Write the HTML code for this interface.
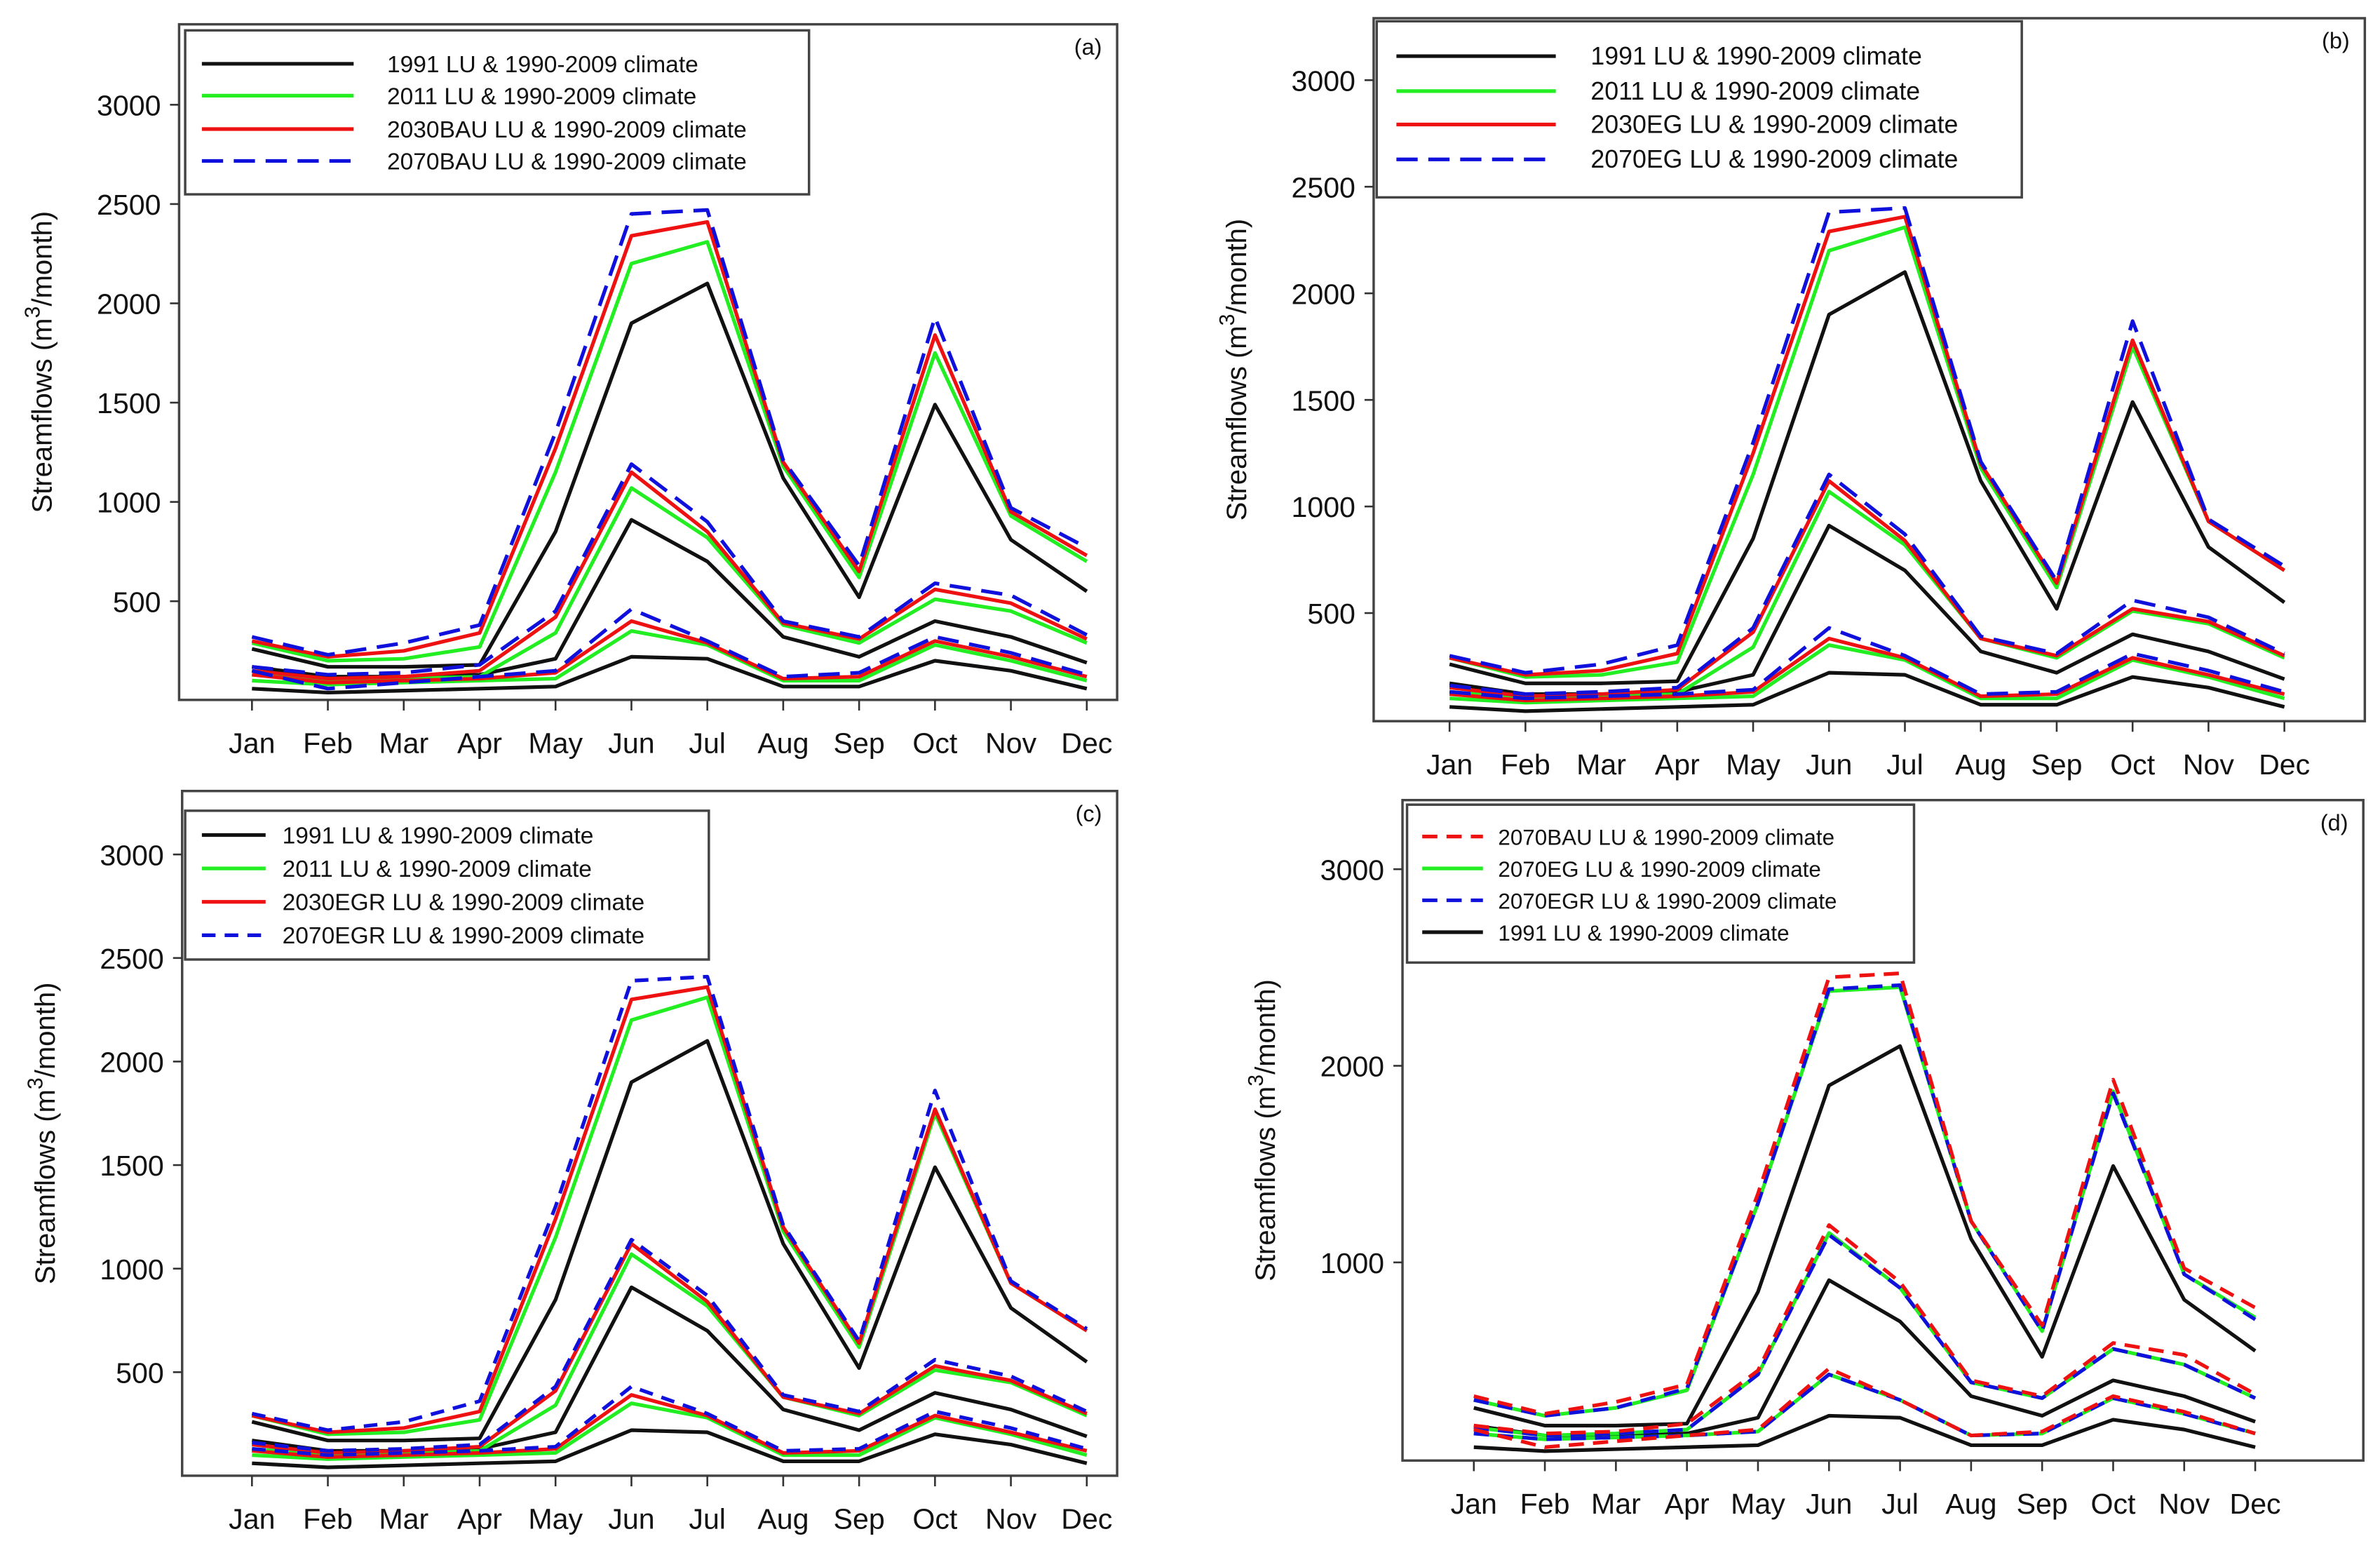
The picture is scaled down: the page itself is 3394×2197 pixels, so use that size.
<!DOCTYPE html>
<html><head><meta charset="utf-8"><style>
html,body{margin:0;padding:0;background:#fff;}
svg{display:block;}
text{font-family:"Liberation Sans",sans-serif;fill:#111;}
</style></head><body>
<svg id="fig" width="3394" height="2197" viewBox="0 0 1568 1015" preserveAspectRatio="none" xmlns="http://www.w3.org/2000/svg"></svg>
<script>
const months=["Jan","Feb","Mar","Apr","May","Jun","Jul","Aug","Sep","Oct","Nov","Dec"];
// Scenario data: three bands (high, mid, low) per scenario
const s1991High=[260,170,170,180,850,1900,2100,1120,520,1490,810,550];
const s1991Mid=[170,120,120,130,210,910,700,320,220,400,320,190];
const s1991Low=[60,40,50,60,70,220,210,70,70,200,150,60];
const s2011High=[290,200,210,270,1150,2200,2310,1180,620,1750,930,700];
const s2011Mid=[130,100,110,120,340,1070,820,380,290,510,450,290];
const s2011Low=[100,80,90,100,110,350,280,100,100,280,200,100];
const sBAU30High=[300,220,250,340,1270,2340,2410,1200,650,1840,950,730];
const sBAU30Mid=[150,110,120,150,420,1150,850,390,310,560,490,310];
const sBAU30Low=[130,90,100,110,140,400,290,110,120,300,220,120];
const sBAU70High=[320,230,290,380,1350,2450,2470,1210,680,1930,970,770];
const sBAU70Mid=[170,130,140,180,450,1190,900,400,320,590,530,330];
const sBAU70Low=[150,60,90,120,150,460,300,120,140,320,240,130];
const sEG30High=[290,210,230,310,1250,2290,2360,1200,640,1780,930,700];
const sEG30Mid=[150,110,120,140,410,1120,840,380,300,520,460,300];
const sEG30Low=[120,90,100,110,130,380,290,110,120,290,210,120];
const sEG70High=[300,220,260,350,1300,2380,2400,1210,650,1870,940,720];
const sEG70Mid=[160,120,130,150,430,1150,870,390,310,560,480,310];
const sEG70Low=[130,100,110,120,140,430,300,120,130,310,230,130];
const sEGR30High=[290,210,230,310,1240,2300,2360,1200,640,1770,930,700];
const sEGR30Mid=[150,110,120,140,410,1120,840,380,300,530,460,300];
const sEGR30Low=[120,90,100,110,130,390,290,110,120,290,210,120];
const sEGR70High=[300,220,260,360,1300,2390,2410,1210,650,1860,940,710];
const sEGR70Mid=[160,120,130,150,430,1140,870,390,310,560,480,310];
const sEGR70Low=[130,100,110,120,140,430,300,120,130,310,230,130];
const yTicksABC=[500,1000,1500,2000,2500,3000];
const yTicksD=[1000,2000,3000];

const svg=document.getElementById('fig');
const NS="http://www.w3.org/2000/svg";
function mk(tag,attrs,parent){const e=document.createElementNS(NS,tag);for(const k in attrs)e.setAttribute(k,attrs[k]);(parent||svg).appendChild(e);return e;}

const BLK="#111",GRN="#22ee22",RED="#ee1111",BLU="#1010dd";
const panels=[
 {id:"a",L:118,T:16,R:736,B:461,y0:461.4,pp:65.4/500,x0:166,dx:50,ticks:yTicksABC,
  leg:{x1:122,y1:20,x2:533,y2:128,lx1:133,lx2:233,tx:255,fs:15.5,ys:[42,63,85,106]},
  series:[["1991 LU & 1990-2009 climate",BLK,"",[s1991High,s1991Mid,s1991Low]],
          ["2011 LU & 1990-2009 climate",GRN,"",[s2011High,s2011Mid,s2011Low]],
          ["2030BAU LU & 1990-2009 climate",RED,"",[sBAU30High,sBAU30Mid,sBAU30Low]],
          ["2070BAU LU & 1990-2009 climate",BLU,"14,7",[sBAU70High,sBAU70Mid,sBAU70Low]]]},
 {id:"b",L:905,T:12,R:1558,B:475,y0:474,pp:70.2/500,x0:955,dx:50,ticks:yTicksABC,
  leg:{x1:907,y1:14,x2:1332,y2:130,lx1:920,lx2:1025,tx:1048,fs:16.5,ys:[37,60,82,105]},
  series:[["1991 LU & 1990-2009 climate",BLK,"",[s1991High,s1991Mid,s1991Low]],
          ["2011 LU & 1990-2009 climate",GRN,"",[s2011High,s2011Mid,s2011Low]],
          ["2030EG LU & 1990-2009 climate",RED,"",[sEG30High,sEG30Mid,sEG30Low]],
          ["2070EG LU & 1990-2009 climate",BLU,"14,7",[sEG70High,sEG70Mid,sEG70Low]]]},
 {id:"c",L:120,T:521,R:736,B:972,y0:972,pp:68.2/500,x0:166,dx:50,ticks:yTicksABC,
  leg:{x1:122,y1:534,x2:467,y2:632,lx1:133,lx2:175,tx:186,fs:15.5,ys:[550,572,594,616]},
  series:[["1991 LU & 1990-2009 climate",BLK,"",[s1991High,s1991Mid,s1991Low]],
          ["2011 LU & 1990-2009 climate",GRN,"",[s2011High,s2011Mid,s2011Low]],
          ["2030EGR LU & 1990-2009 climate",RED,"",[sEGR30High,sEGR30Mid,sEGR30Low]],
          ["2070EGR LU & 1990-2009 climate",BLU,"9,6",[sEGR70High,sEGR70Mid,sEGR70Low]]]},
 {id:"d",L:924,T:527,R:1557,B:962,y0:961,pp:129.5/1000,x0:971,dx:46.8,ticks:yTicksD,
  leg:{x1:927,y1:530,x2:1261,y2:634,lx1:937,lx2:977,tx:987,fs:14.5,ys:[551,572,593,614]},
  series:[["1991 LU & 1990-2009 climate",BLK,"",[s1991High,s1991Mid,s1991Low]],
          ["2070EG LU & 1990-2009 climate",GRN,"",[sEG70High,sEG70Mid,sEG70Low]],
          ["2070EGR LU & 1990-2009 climate",BLU,"10,6",[sEGR70High,sEGR70Mid,sEGR70Low]],
          ["2070BAU LU & 1990-2009 climate",RED,"10,6",[sBAU70High,sBAU70Mid,sBAU70Low]]],
  legOrder:[3,1,2,0]}
];

panels.forEach(p=>{
  const g=mk('g',{});
  
  
  const X=i=>p.x0+i*p.dx, Y=v=>p.y0-v*p.pp;
  p.series.forEach((s,si)=>{
    s[3].forEach((arr,bi)=>{
      const pts=arr.map((v,i)=>X(i).toFixed(1)+","+Y(v).toFixed(1)).join(" ");
      const pl=mk('polyline',{points:pts,fill:"none",stroke:s[1],"stroke-width":2.4,"stroke-linejoin":"round"},g);
      if(s[2])pl.setAttribute('stroke-dasharray',s[2]);
      
      
    });
  });
  const fr=mk('rect',{x:p.L,y:p.T,width:p.R-p.L,height:p.B-p.T,fill:"none",stroke:"#444","stroke-width":1.6},g);
  
  
  p.ticks.forEach(t=>{
    const y=Y(t);
    mk('line',{x1:p.L-6,x2:p.L,y1:y,y2:y,stroke:"#333","stroke-width":1.2},g);
    const tx=mk('text',{x:p.L-12,y:y+7,"text-anchor":"end","font-size":19},g);
    tx.textContent=t;
    
    
  });
  months.forEach((m,i)=>{
    const x=X(i);
    mk('line',{x1:x,x2:x,y1:p.B,y2:p.B+7,stroke:"#333","stroke-width":1.2},g);
    const tx=mk('text',{x:x,y:p.B+35,"text-anchor":"middle","font-size":19},g);
    tx.textContent=m;
    
    
  });
  const cy=(p.T+p.B)/2, tx0=p.L-84;
  const yt=mk('text',{x:tx0,y:cy,"text-anchor":"middle","font-size":18.5,transform:`rotate(-90 ${tx0} ${cy})`},g);
  yt.innerHTML='Streamflows (m<tspan dy="-8" font-size="14">3</tspan><tspan dy="8">/month)</tspan>';
  
  
  const pl=mk('text',{x:p.R-10,y:p.T+20,"text-anchor":"end","font-size":15},g);
  pl.textContent='('+p.id+')';
  
  
  const L=p.leg;
  const lg=mk('g',{},g);
  
  
  mk('rect',{x:L.x1,y:L.y1,width:L.x2-L.x1,height:L.y2-L.y1,fill:"#fff",stroke:"#444","stroke-width":1.6},lg);
  const order=p.legOrder||[0,1,2,3];
  order.forEach((si,k)=>{
    const s=p.series[si], y=L.ys[k];
    const ln=mk('line',{x1:L.lx1,x2:L.lx2,y1:y,y2:y,stroke:s[1],"stroke-width":2.4},lg);
    if(s[2])ln.setAttribute('stroke-dasharray',s[2]);
    const t=mk('text',{x:L.tx,y:y+5.5,"font-size":L.fs},lg);
    t.textContent=s[0];
    
    
  });
});
</script>
</body></html>
